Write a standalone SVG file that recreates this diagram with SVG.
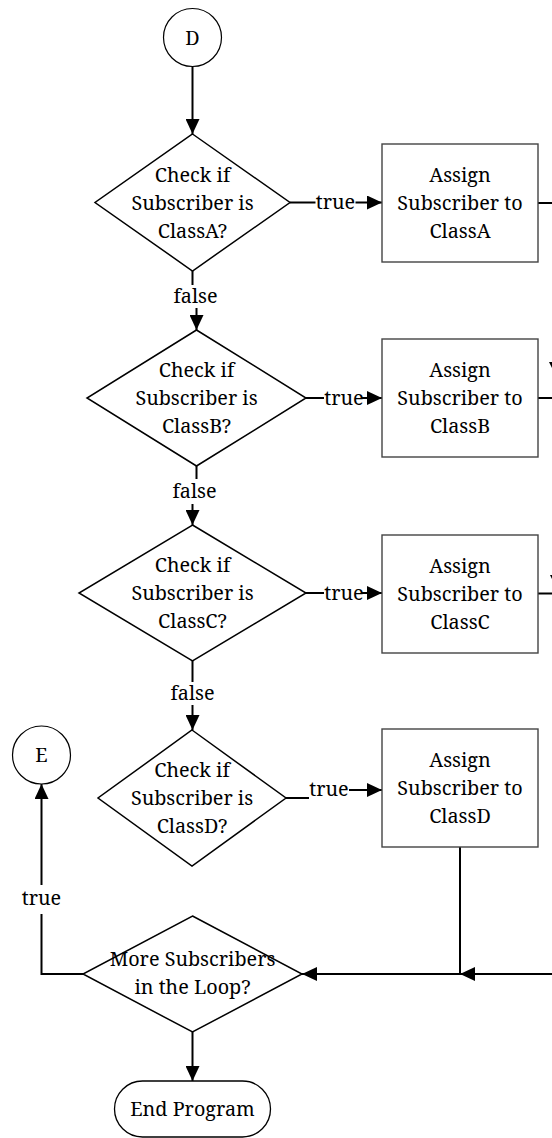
<svg xmlns="http://www.w3.org/2000/svg" width="552" height="1138" viewBox="0 0 552 1138">
  <style>
    .txt { font-family: "Noto Serif", "DejaVu Serif", serif; font-size: 19.8px; fill: #000; text-anchor: middle; }
    .circ { fill: #fff; stroke: #000; stroke-width: 1.2; }
    .dec { fill: #fff; stroke: #000; stroke-width: 1.5; }
    .proc { fill: #fff; stroke: #444; stroke-width: 1.4; }
    .term { fill: #fff; stroke: #000; stroke-width: 1.3; }
    .edge { fill: none; stroke: #000; stroke-width: 2; }
    .arr { marker-end: url(#head); }
    .lblbg { fill: #fff; stroke: none; }
  </style>
  <defs>
    <marker id="head" markerUnits="userSpaceOnUse" markerWidth="15" markerHeight="14" refX="15" refY="7" orient="auto">
      <path d="M0,0 L15,7 L0,14 z" fill="#000"/>
    </marker>
  </defs>

  <rect width="552" height="1138" fill="#fff"/>

  <!-- connectors and their labels -->
  <g id="connectors">
    <path class="edge arr" d="M192.5,66.5 V134"/>
    <!-- decision A -->
    <path class="edge arr" d="M290,202.5 H382"/>
    <path class="edge arr" d="M192.5,271 V296.5 H196.5 V330"/>
    <path class="edge" d="M538,203 H552"/>
    <!-- decision B -->
    <path class="edge arr" d="M306,398 H382"/>
    <path class="edge arr" d="M196.5,466 V491.5 H192.5 V525"/>
    <path class="edge" d="M538,398 H552"/>
    <!-- decision C -->
    <path class="edge arr" d="M306,593 H382"/>
    <path class="edge arr" d="M192.5,661 V730"/>
    <path class="edge" d="M538,593.5 H552"/>
    <!-- decision D -->
    <path class="edge arr" d="M286,798 H329 V790 H382"/>
    <path class="edge" d="M460,847 V974"/>
    <!-- loop check -->
    <path class="edge arr" d="M552,974 H460"/>
    <path class="edge arr" d="M460,974 H302"/>
    <path class="edge arr" d="M83,974 H41.5 V784"/>
    <path class="edge arr" d="M192.5,1032 V1081"/>
    <!-- arrowheads arriving from the right -->
    <path d="M549,362 L563,362 L556,376 z" fill="#000"/>
    <path d="M550,575 L564,575 L557,589 z" fill="#000"/>

    <!-- edge labels -->
    <rect class="lblbg" x="315.5" y="192" width="40" height="20"/>
    <text class="txt" x="335.5" y="209">true</text>
    <rect class="lblbg" x="324" y="388" width="38" height="20"/>
    <text class="txt" x="344" y="405">true</text>
    <rect class="lblbg" x="324" y="583" width="38" height="20"/>
    <text class="txt" x="344" y="600">true</text>
    <rect class="lblbg" x="309" y="783" width="40" height="20"/>
    <text class="txt" x="329" y="796">true</text>
    <rect class="lblbg" x="173" y="285" width="46" height="23"/>
    <text class="txt" x="195.5" y="303">false</text>
    <rect class="lblbg" x="171" y="479" width="46" height="25"/>
    <text class="txt" x="194.5" y="498">false</text>
    <rect class="lblbg" x="169" y="682" width="46" height="23"/>
    <text class="txt" x="192.5" y="700">false</text>
    <rect class="lblbg" x="21" y="885" width="41" height="29"/>
    <text class="txt" x="41.5" y="905">true</text>
  </g>

  <!-- start connector D -->
  <g id="connD">
    <circle class="circ" cx="192.5" cy="37.5" r="29"/>
    <text class="txt" x="192.5" y="44.5">D</text>
  </g>

  <!-- decision A -->
  <g id="checkA">
    <polygon class="dec" points="192.5,134 290,202.5 192.5,271 95,202.5"/>
    <text class="txt" x="192.5" y="181.5">Check if</text>
    <text class="txt" x="192.5" y="209.5">Subscriber is</text>
    <text class="txt" x="192.5" y="237.5">ClassA?</text>
  </g>
  <g id="assignA">
    <rect class="proc" x="382" y="144" width="156" height="118"/>
    <text class="txt" x="460" y="182">Assign</text>
    <text class="txt" x="460" y="210">Subscriber to</text>
    <text class="txt" x="460" y="238">ClassA</text>
  </g>

  <!-- decision B -->
  <g id="checkB">
    <polygon class="dec" points="196.5,330 306,398 196.5,466 87,398"/>
    <text class="txt" x="196.5" y="377">Check if</text>
    <text class="txt" x="196.5" y="405">Subscriber is</text>
    <text class="txt" x="196.5" y="433">ClassB?</text>
  </g>
  <g id="assignB">
    <rect class="proc" x="382" y="339" width="156" height="118"/>
    <text class="txt" x="460" y="377">Assign</text>
    <text class="txt" x="460" y="405">Subscriber to</text>
    <text class="txt" x="460" y="433">ClassB</text>
  </g>

  <!-- decision C -->
  <g id="checkC">
    <polygon class="dec" points="192.5,525 306,593 192.5,661 79,593"/>
    <text class="txt" x="192.5" y="572">Check if</text>
    <text class="txt" x="192.5" y="600">Subscriber is</text>
    <text class="txt" x="192.5" y="628">ClassC?</text>
  </g>
  <g id="assignC">
    <rect class="proc" x="382" y="535" width="156" height="118"/>
    <text class="txt" x="460" y="572.5">Assign</text>
    <text class="txt" x="460" y="600.5">Subscriber to</text>
    <text class="txt" x="460" y="628.5">ClassC</text>
  </g>

  <!-- decision D -->
  <g id="checkD">
    <polygon class="dec" points="192,730 286,798 192,866 98,798"/>
    <text class="txt" x="192" y="777">Check if</text>
    <text class="txt" x="192" y="805">Subscriber is</text>
    <text class="txt" x="192" y="833">ClassD?</text>
  </g>
  <g id="assignD">
    <rect class="proc" x="382" y="729" width="156" height="118"/>
    <text class="txt" x="460" y="767">Assign</text>
    <text class="txt" x="460" y="795">Subscriber to</text>
    <text class="txt" x="460" y="823">ClassD</text>
  </g>

  <!-- off-page connector E -->
  <g id="connE">
    <circle class="circ" cx="41.5" cy="755" r="29"/>
    <text class="txt" x="41.5" y="762">E</text>
  </g>

  <!-- loop check -->
  <g id="moreSubs">
    <polygon class="dec" points="192.5,916 302,974 192.5,1032 83,974"/>
    <text class="txt" x="192.5" y="966">More Subscribers</text>
    <text class="txt" x="192.5" y="994">in the Loop?</text>
  </g>

  <!-- terminator -->
  <g id="endProgram">
    <rect class="term" x="114.5" y="1081" width="156" height="56" rx="28" ry="28"/>
    <text class="txt" x="192.5" y="1116">End Program</text>
  </g>
</svg>
